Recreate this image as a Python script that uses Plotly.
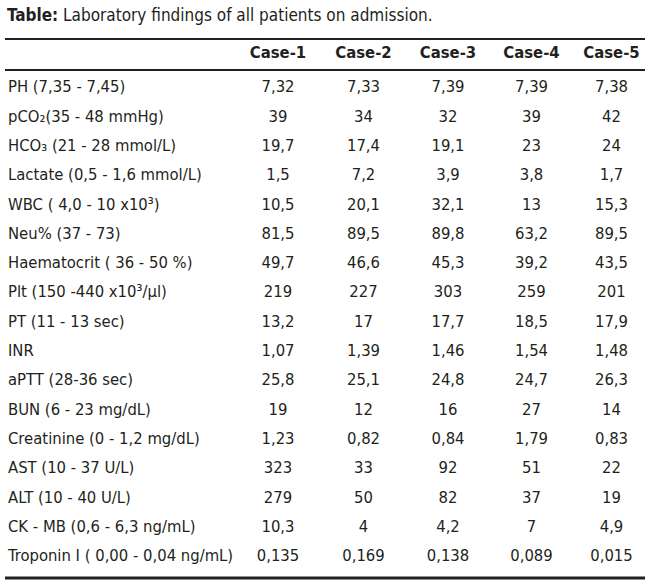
import plotly.graph_objects as go

# table contents
cases = ["Case-1", "Case-2", "Case-3", "Case-4", "Case-5"]
tests = [
    "PH (7,35 - 7,45)",
    "pCO₂(35 - 48 mmHg)",
    "HCO₃ (21 - 28 mmol/L)",
    "Lactate (0,5 - 1,6 mmol/L)",
    "WBC ( 4,0 - 10 x10³)",
    "Neu% (37 - 73)",
    "Haematocrit ( 36 - 50 %)",
    "Plt (150 -440 x10³/µl)",
    "PT (11 - 13 sec)",
    "INR",
    "aPTT (28-36 sec)",
    "BUN (6 - 23 mg/dL)",
    "Creatinine (0 - 1,2 mg/dL)",
    "AST (10 - 37 U/L)",
    "ALT (10 - 40 U/L)",
    "CK - MB (0,6 - 6,3 ng/mL)",
    "Troponin I ( 0,00 - 0,04 ng/mL)",
]
case1 = ["7,32", "39", "19,7", "1,5", "10,5", "81,5", "49,7", "219", "13,2",
         "1,07", "25,8", "19", "1,23", "323", "279", "10,3", "0,135"]
case2 = ["7,33", "34", "17,4", "7,2", "20,1", "89,5", "46,6", "227", "17",
         "1,39", "25,1", "12", "0,82", "33", "50", "4", "0,169"]
case3 = ["7,39", "32", "19,1", "3,9", "32,1", "89,8", "45,3", "303", "17,7",
         "1,46", "24,8", "16", "0,84", "92", "82", "4,2", "0,138"]
case4 = ["7,39", "39", "23", "3,8", "13", "63,2", "39,2", "259", "18,5",
         "1,54", "24,7", "27", "1,79", "51", "37", "7", "0,089"]
case5 = ["7,38", "42", "24", "1,7", "15,3", "89,5", "43,5", "201", "17,9",
         "1,48", "26,3", "14", "0,83", "22", "19", "4,9", "0,015"]

W, H = 650, 587
FONT = "DejaVu Sans Condensed"
INK = "#231f20"

def py(px):
    # pixel row -> paper y
    return 1 - px / H

font = dict(family=FONT, size=16.5, color=INK)

# keep long labels on one line (table wraps at plain spaces)
labels = [t.replace(" ", "\u00a0") for t in tests]

fig = go.Figure(go.Table(
    columnwidth=[235, 86, 85, 84, 83, 77],
    header=dict(
        values=[""] + ["<b>%s</b>" % c for c in cases],
        align=["left"] + ["center"] * 5,
        font=font,
        fill_color="white",
        line_color="white",
        height=37,
    ),
    cells=dict(
        values=[labels, case1, case2, case3, case4, case5],
        align=["left"] + ["center"] * 5,
        font=font,
        fill_color="white",
        line_color="white",
        height=29.3,
    ),
    domain=dict(x=[0, 1], y=[0, py(35)]),
))

# horizontal rules
for y, w in [(39, 2), (70, 2), (578, 3)]:
    fig.add_shape(type="line", xref="paper", yref="paper",
                  x0=5 / W, x1=645 / W, y0=py(y), y1=py(y),
                  line=dict(color=INK, width=w))

fig.update_layout(
    width=W, height=H,
    margin=dict(l=0, r=0, t=0, b=0),
    paper_bgcolor="white",
    title=dict(
        text="<b>Table:</b> Laboratory findings of all patients on admission.",
        x=7 / W, xanchor="left", xref="paper",
        y=py(15), yanchor="middle", yref="paper",
        font=dict(family=FONT, size=17, color=INK),
    ),
)

fig.write_html("out.html", config={"displayModeBar": False},
               post_script="document.body.style.margin='0px';")
